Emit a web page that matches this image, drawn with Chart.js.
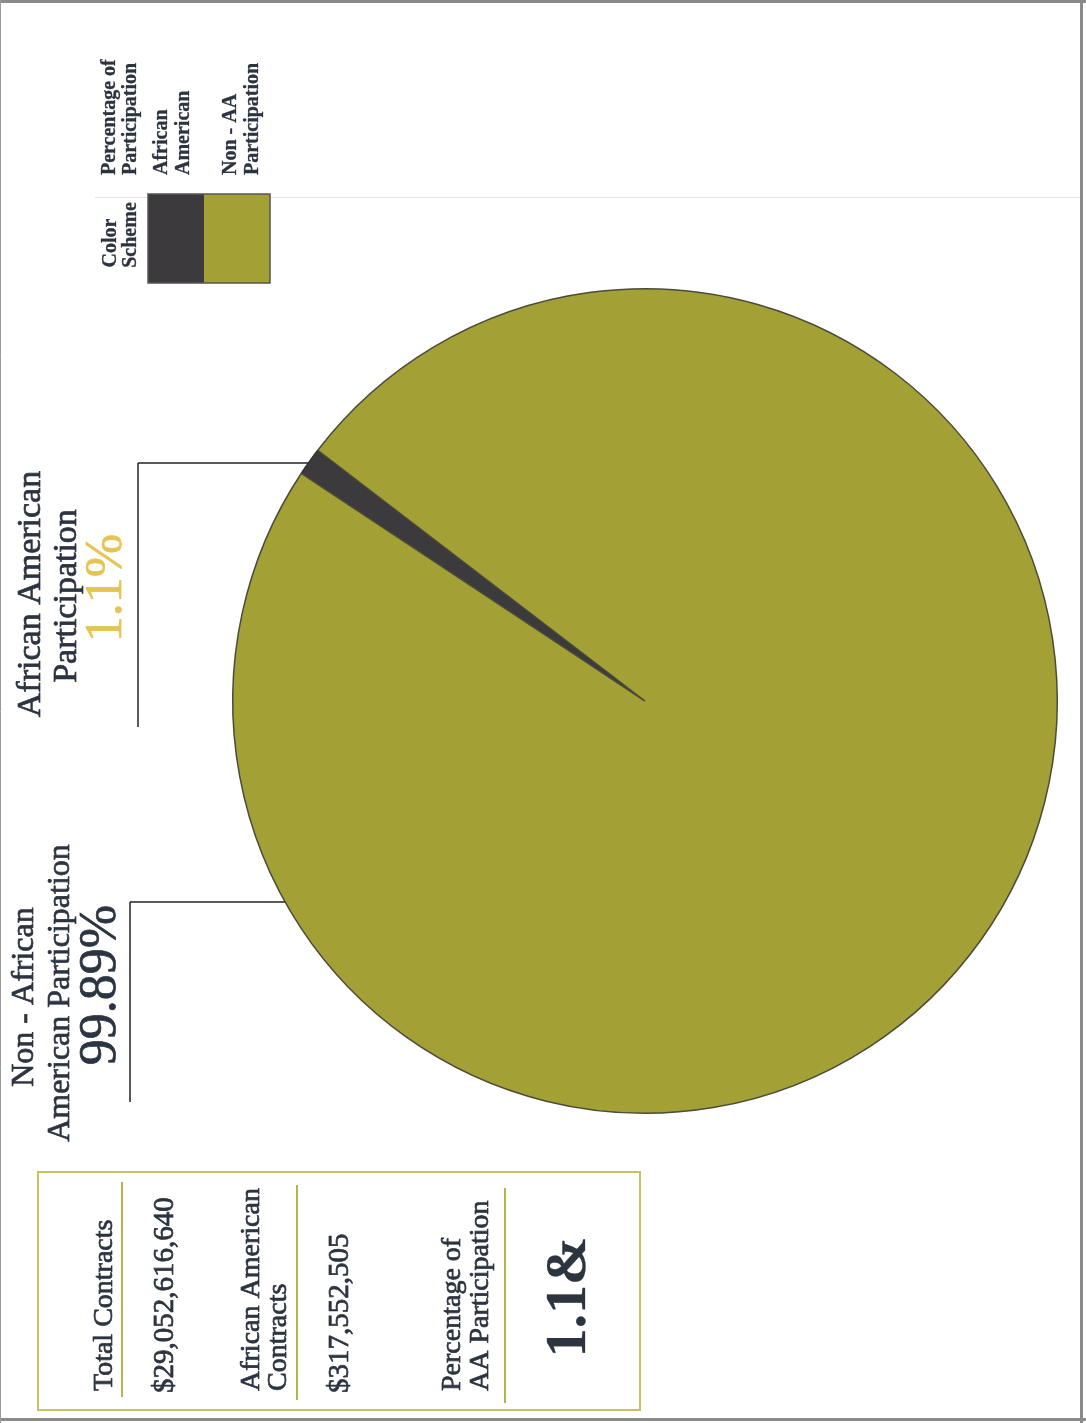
<!DOCTYPE html>
<html>
<head>
<meta charset="utf-8">
<script src="https://cdn.jsdelivr.net/npm/chart.js@4/dist/chart.umd.min.js"></script>
<style>
  body { margin: 0; background: #fff; }
  #page { width: 1086px; height: 1423px; }
</style>
</head>
<body>
<div id="page"><canvas id="pie" width="1086" height="1423"></canvas></div>
<script>
// data
const categories = ['African American', 'Non - African American'];
const shares = [1.1, 98.9];
const shareLabels = ['1.1%', '99.89%'];
const legendNames = [['African', 'American'], ['Non - AA', 'Participation']];
const tableLabels = [['Total Contracts'], ['African American', 'Contracts'], ['Percentage of', 'AA Participation']];
const tableValues = ['$29,052,616,640', '$317,552,505', '1.1&'];

const sliceColors = ['#3c3a3d', '#a3a135'];
const ink = '#2c3440';
const serif = "'Liberation Serif', 'DejaVu Serif', serif";

// write text turned a quarter left, reading bottom to top
function vtext(ctx, str, x, y, size, opts) {
  opts = opts || {};
  const color = opts.color || ink;
  ctx.save();
  ctx.translate(x, y);
  ctx.rotate(-Math.PI / 2);
  ctx.font = (opts.bold ? 'bold ' : '') + size + 'px ' + serif;
  ctx.fillStyle = color;
  ctx.textAlign = opts.align || 'center';
  ctx.textBaseline = 'middle';
  ctx.fillText(str, 0, 0);
  // the scan prints heavier than the plain face
  ctx.strokeStyle = color;
  ctx.lineWidth = opts.bold ? 0.3 : 0.7;
  ctx.strokeText(str, 0, 0);
  ctx.restore();
}

function line(ctx, x1, y1, x2, y2, color, w) {
  ctx.save();
  ctx.strokeStyle = color;
  ctx.lineWidth = w;
  ctx.beginPath();
  ctx.moveTo(x1, y1);
  ctx.lineTo(x2, y2);
  ctx.stroke();
  ctx.restore();
}

const pagePlugin = {
  id: 'page',
  beforeDraw(chart) {
    const ctx = chart.ctx;
    ctx.save();
    ctx.fillStyle = '#fff';
    ctx.fillRect(0, 0, chart.width, chart.height);
    ctx.restore();
    // faint rule behind legend
    line(ctx, 95, 197.5, 1080, 197.5, '#e4e4e4', 1);
  },
  afterDraw(chart) {
    const ctx = chart.ctx;
    const arc = chart.getDatasetMeta(0).data[0];
    const cx = arc.x, cy = arc.y, r = arc.outerRadius;
    const edgeX = y => cx - Math.sqrt(r * r - (y - cy) * (y - cy));

    // page border
    line(ctx, 0, 1.5, 1086, 1.5, '#8a8a8a', 3);
    line(ctx, 1081.5, 0, 1081.5, 1423, '#8a8a8a', 3);
    line(ctx, 0, 1419.5, 1086, 1419.5, '#8a8a8a', 3);
    line(ctx, 0.5, 0, 0.5, 1423, '#9a9a9a', 1);

    // African American callout
    line(ctx, 138, 463, edgeX(463), 463, '#222', 1.5);
    line(ctx, 138, 463, 138, 727, '#222', 1.5);
    vtext(ctx, 'African American', 31, 594, 34);
    vtext(ctx, 'Participation', 67, 596, 34);
    vtext(ctx, shareLabels[0], 107, 588, 52, { color: '#e6c454' });

    // Non - African American callout
    line(ctx, 130, 902, edgeX(902), 902, '#222', 1.5);
    line(ctx, 130, 902, 130, 1102, '#222', 1.5);
    vtext(ctx, 'Non - African', 25, 997, 32);
    vtext(ctx, 'American Participation', 61, 993, 32);
    vtext(ctx, shareLabels[1], 101, 985, 52);

    // legend
    vtext(ctx, 'Color', 111, 243, 20, { bold: true });
    vtext(ctx, 'Scheme', 131, 235, 20, { bold: true });
    ctx.save();
    ctx.fillStyle = sliceColors[0];
    ctx.fillRect(148, 194, 56, 89);
    ctx.fillStyle = sliceColors[1];
    ctx.fillRect(204, 194, 66, 89);
    ctx.strokeStyle = '#555';
    ctx.lineWidth = 1.5;
    ctx.strokeRect(148, 194, 122, 89);
    ctx.restore();
    vtext(ctx, 'Percentage of', 110, 175, 20, { bold: true, align: 'left' });
    vtext(ctx, 'Participation', 131, 175, 20, { bold: true, align: 'left' });
    const legendX = [[162, 184], [231, 253]];
    legendNames.forEach((pair, i) => {
      pair.forEach((s, j) => vtext(ctx, s, legendX[i][j], 175, 20, { bold: true, align: 'left' }));
    });

    // contract box
    ctx.save();
    ctx.strokeStyle = '#c9c262';
    ctx.lineWidth = 2;
    ctx.strokeRect(38, 1172, 602, 238);
    ctx.restore();
    const labelX = [[105], [252, 279], [453, 481]];
    const ruleX = [122, 297, 505];
    const valueX = [165, 340, 570];
    tableLabels.forEach((lines, i) => {
      lines.forEach((s, j) => vtext(ctx, s, labelX[i][j], 1391, 28, { align: 'left' }));
      line(ctx, ruleX[i], 1182 + i * 3, ruleX[i], 1397 + i * 3, '#b8b24e', 2);
      if (i < 2) vtext(ctx, tableValues[i], valueX[i], 1393, 29, { align: 'left' });
      else vtext(ctx, tableValues[i], valueX[i], 1297, 58, { bold: true });
    });
  }
};

new Chart(document.getElementById('pie'), {
  type: 'pie',
  data: {
    labels: categories,
    datasets: [{
      data: shares,
      backgroundColor: sliceColors,
      borderColor: ['#333', '#4b4b3a'],
      borderWidth: 1.5,
    }],
  },
  options: {
    responsive: false,
    animation: false,
    rotation: 303.5,
    layout: { padding: { left: 232, right: 28, top: 284, bottom: 305 } },
    plugins: {
      legend: { display: false },
      tooltip: { enabled: false },
    },
  },
  plugins: [pagePlugin],
});
</script>
</body>
</html>
